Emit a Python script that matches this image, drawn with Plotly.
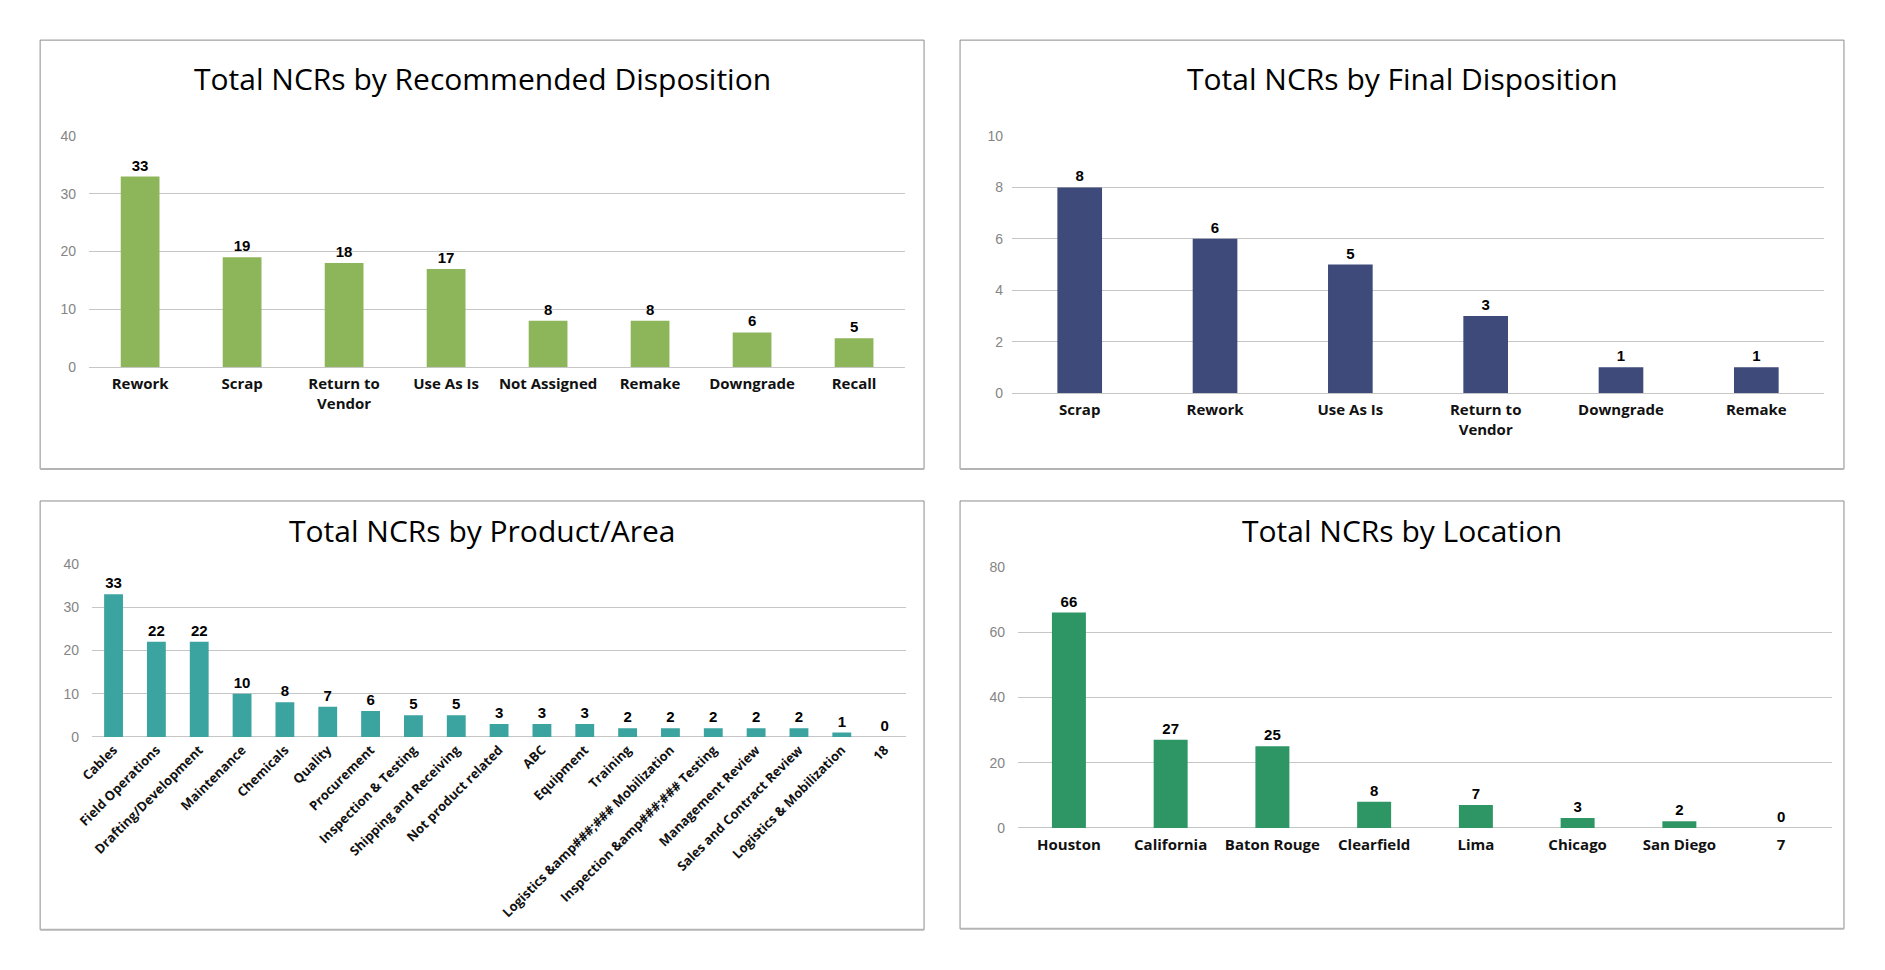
import plotly.graph_objects as go

# ---------------- data ----------------
rec_categories = ["Rework", "Scrap", "Return to<br>Vendor", "Use As Is", "Not Assigned",
                  "Remake", "Downgrade", "Recall"]
rec_values = [33, 19, 18, 17, 8, 8, 6, 5]

final_categories = ["Scrap", "Rework", "Use As Is", "Return to<br>Vendor", "Downgrade", "Remake"]
final_values = [8, 6, 5, 3, 1, 1]

area_categories = ["Cables", "Field Operations", "Drafting/Development", "Maintenance",
                   "Chemicals", "Quality", "Procurement", "Inspection & Testing",
                   "Shipping and Receiving", "Not product related", "ABC", "Equipment",
                   "Training", "Logistics &amp###;### Mobilization",
                   "Inspection &amp###;### Testing", "Management Review",
                   "Sales and Contract Review", "Logistics & Mobilization", "18"]
area_values = [33, 22, 22, 10, 8, 7, 6, 5, 5, 3, 3, 3, 2, 2, 2, 2, 2, 1, 0]

loc_categories = ["Houston", "California", "Baton Rouge", "Clearfield", "Lima",
                  "Chicago", "San Diego", "7"]
loc_values = [66, 27, 25, 8, 7, 3, 2, 0]

titles = ["Total NCRs by Recommended Disposition", "Total NCRs by Final Disposition",
          "Total NCRs by Product/Area", "Total NCRs by Location"]

# ---------------- layout helpers ----------------
W, H = 1885, 970
# observed page placement of the figure in the photograph
SX, OX = 0.9916, 16
SY, OY = 0.9838, 8


def px_x(v):
    return (v / SX - OX) / W


def px_y(v):
    return 1 - (v / SY - OY) / H


LABEL_FONT = dict(family="Liberation Sans, Arial", size=15, color="black", weight="bold")
TICK_NUM_FONT = dict(family="Liberation Sans, Arial", size=14, color="#858585")
CAT_FONT = dict(family="Open Sans", size=15, color="#111111", weight="bold")
GRID = "#c6c6c6"

panels = [
    # categories, values, color, bar width, x px domain, y px domain (top, bottom), yrange, dtick, standoff
    (rec_categories, rec_values, "#8DB55A", 0.38, (89, 905), (136, 367), 40, 10, 12),
    (final_categories, final_values, "#3D4A7A", 0.33, (1012, 1824), (136, 393), 10, 2, 8),
    (area_categories, area_values, "#3BA3A0", 0.44, (92, 906), (564, 737), 40, 10, 12),
    (loc_categories, loc_values, "#2E9664", 0.334, (1018, 1832), (567, 828), 80, 20, 12),
]

fig = go.Figure()
layout = dict(
    width=W, height=H,
    margin=dict(l=0, r=0, t=0, b=0),
    paper_bgcolor="white", plot_bgcolor="white",
    showlegend=False,
    shapes=[], annotations=[],
)

for i, (cats, vals, color, bw, xd, yd, ymax, dt, so) in enumerate(panels):
    n = "" if i == 0 else str(i + 1)
    fig.add_trace(go.Bar(
        x=cats, y=vals, width=bw,
        marker=dict(color=color, line=dict(width=0)),
        text=vals, texttemplate="%{y}", textposition="outside",
        textfont=LABEL_FONT, constraintext="none", cliponaxis=False,
        xaxis="x" + n, yaxis="y" + n, hoverinfo="x+y",
    ))
    xa = dict(
        domain=[px_x(xd[0]), px_x(xd[1])], anchor="y" + n, type="category",
        showgrid=False, showline=False, zeroline=False, ticks="",
        tickfont=dict(CAT_FONT), ticklabelstandoff=6, fixedrange=True,
    )
    if i == 2:
        xa["tickangle"] = -45
        xa["tickfont"] = dict(CAT_FONT, size=13)
        xa["ticklabelstandoff"] = 2
    ya = dict(
        domain=[px_y(yd[1]), px_y(yd[0])], anchor="x" + n, range=[0, ymax],
        dtick=dt, tick0=0, showgrid=True, gridcolor=GRID, gridwidth=1,
        zeroline=True, zerolinecolor=GRID, zerolinewidth=1, showline=False,
        ticks="", tickfont=TICK_NUM_FONT, ticklabelstandoff=so, fixedrange=True,
    )
    layout["xaxis" + n] = xa
    layout["yaxis" + n] = ya

# panel frames: darker top/left/right edges, softer heavier bottom edge
frames = [(40, 40, 924, 469), (960, 40, 1844, 469), (40, 501, 924, 930), (960, 501, 1844, 929)]
for (x0, y0, x1, y1) in frames:
    edges = [
        ((x0, y0), (x1, y0), "#8c8c8c", 1),
        ((x0, y0), (x0, y1), "#8c8c8c", 1),
        ((x1, y0), (x1, y1), "#8c8c8c", 1),
        ((x0, y1), (x1, y1), "#b4b4b4", 2),
    ]
    for (a, b, c, w) in edges:
        layout["shapes"].append(dict(
            type="line", xref="paper", yref="paper",
            x0=px_x(a[0]), y0=px_y(a[1]), x1=px_x(b[0]), y1=px_y(b[1]),
            line=dict(color=c, width=w), layer="below",
        ))

# titles
title_pos = [(482, 78), (1402, 78), (482, 531), (1402, 531)]
for t, (cx, cy) in zip(titles, title_pos):
    layout["annotations"].append(dict(
        text=t, x=px_x(cx), y=px_y(cy), xref="paper", yref="paper",
        xanchor="center", yanchor="middle", showarrow=False,
        font=dict(family="Open Sans", size=30, color="black"),
    ))

fig.update_layout(**layout)
fig.write_html("out.html", config={"displayModeBar": False})
